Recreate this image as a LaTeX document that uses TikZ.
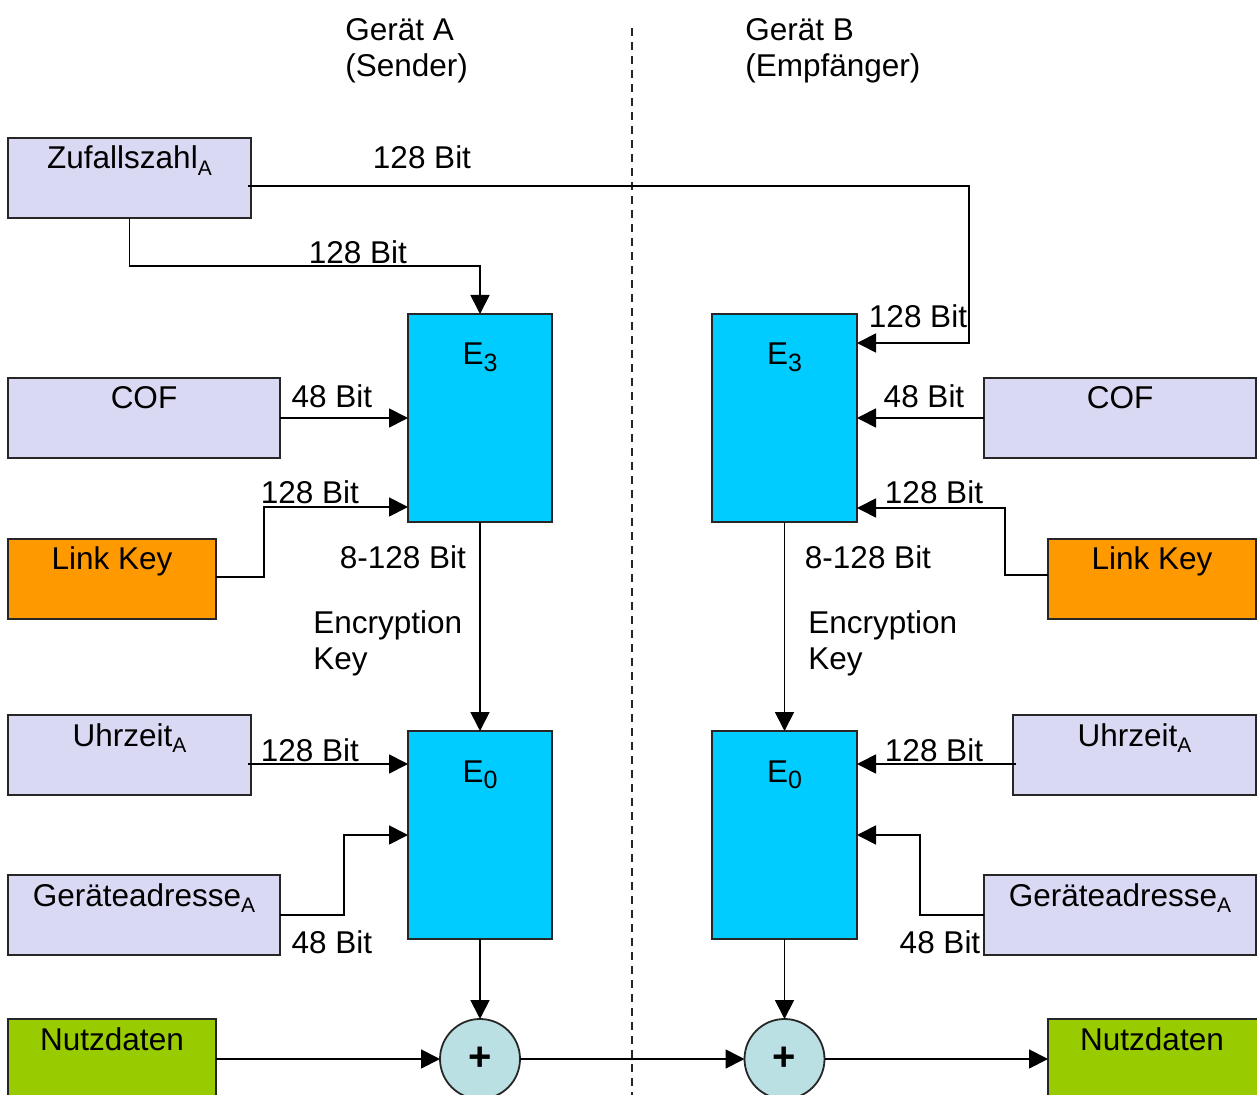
\documentclass[tikz,border=0pt]{standalone}
\usepackage{fontspec}
\setmainfont{Liberation Sans}
\usetikzlibrary{fit,calc,arrows.meta}
\definecolor{boxlila}{RGB}{217,217,243}
\definecolor{ecyan}{RGB}{0,204,255}
\definecolor{lkorange}{RGB}{255,153,0}
\definecolor{ndgreen}{RGB}{153,204,0}
\definecolor{xorfill}{RGB}{187,224,227}
\newcommand\subtx[1]{\raisebox{-0.22em}{\fontsize{10.5}{12}\selectfont #1}}
\newcommand\subnum[1]{\raisebox{-0.2em}{\fontsize{12.5}{14}\selectfont #1}}
\begin{document}
\begin{tikzpicture}[x=0.5pt,y=-0.5pt,
  every node/.style={font=\fontsize{15.75}{18}\selectfont},
  boxbase/.style={draw=black!85, line width=0.9pt, inner sep=0pt, outer sep=0pt},
  inbox/.style={boxbase, fill=boxlila},
  ebox/.style={boxbase, fill=ecyan},
  lkbox/.style={boxbase, fill=lkorange},
  ndbox/.style={boxbase, fill=ndgreen},
  xorop/.style={draw=black!85, line width=0.9pt, circle, fill=xorfill, minimum size=40pt, inner sep=0pt, outer sep=0pt, font=\fontsize{20}{24}\selectfont\bfseries},
  lbl/.style={inner sep=0pt, anchor=base},
  hdr/.style={inner sep=0pt, anchor=north west, align=left},
  conn/.style={line width=0.9pt, black},
  arr/.style={conn, -{Triangle[length=9.5pt,width=9.5pt]}},
  divider/.style={line width=0.7pt, black!85, dash pattern=on 4pt off 3pt},
]
\path[use as bounding box] (0,0) rectangle (1257,1095);

% headers and divider
\node[hdr] (hA) at (345,18) {Gerät A\\(Sender)};
\node[hdr] (hB) at (745,18) {Gerät B\\(Empfänger)};
\coordinate (dtop) at (632,28);
\coordinate (dbot) at (632,1095);
\draw[divider] (dtop) -- (dbot);

% boxes, left side
\node[inbox, fit={(8,138) (251,218)}] (za) {};
\node[inbox, fit={(8,378) (280,458)}] (cofa) {};
\node[lkbox, fit={(8,539) (216,619)}] (lka) {};
\node[inbox, fit={(8,715) (251,795)}] (uza) {};
\node[inbox, fit={(8,875) (280,955)}] (gaa) {};
\node[ndbox, fit={(8,1019) (216,1120)}] (nda) {};
\node[ebox, fit={(408,314) (552,522)}] (e3a) {};
\node[ebox, fit={(408,731) (552,939)}] (e0a) {};
\node[xorop] (pa) at (480,1059) {+};

% boxes, right side
\node[inbox, fit={(984,378) (1256,458)}] (cofb) {};
\node[lkbox, fit={(1048,539) (1256,619)}] (lkb) {};
\node[inbox, fit={(1013,715) (1256,795)}] (uzb) {};
\node[inbox, fit={(984,875) (1256,955)}] (gab) {};
\node[ndbox, fit={(1048,1019) (1270,1120)}] (ndb) {};
\node[ebox, fit={(712,314) (857,522)}] (e3b) {};
\node[ebox, fit={(712,731) (857,939)}] (e0b) {};
\node[xorop] (pb) at (784.5,1059) {+};

% box texts
\node[lbl] (zaT) at ($(za.north)+(0,31)$) {Zufallszahl\subtx{A}};
\node[lbl] (cofaT) at ($(cofa.north)+(0,31)$) {COF};
\node[lbl] (lkaT) at ($(lka.north)+(0,31)$) {Link Key};
\node[lbl] (uzaT) at ($(uza.north)+(0,31)$) {Uhrzeit\subtx{A}};
\node[lbl] (gaaT) at ($(gaa.north)+(0,31)$) {Geräteadresse\subtx{A}};
\node[lbl] (ndaT) at ($(nda.north)+(0,31)$) {Nutzdaten};
\node[lbl] (e3aT) at ($(e3a.north)+(0,51)$) {E\subnum{3}};
\node[lbl] (e0aT) at ($(e0a.north)+(0,51)$) {E\subnum{0}};
\node[lbl] (cofbT) at ($(cofb.north)+(0,31)$) {COF};
\node[lbl] (lkbT) at ($(lkb.north)+(0,31)$) {Link Key};
\node[lbl] (uzbT) at ($(uzb.north)+(0,31)$) {Uhrzeit\subtx{A}};
\node[lbl] (gabT) at ($(gab.north)+(0,31)$) {Geräteadresse\subtx{A}};
\node[lbl] (ndbT) at (1152,1050) {Nutzdaten};
\node[lbl] (e3bT) at ($(e3b.north)+(0,51)$) {E\subnum{3}};
\node[lbl] (e0bT) at ($(e0b.north)+(0,51)$) {E\subnum{0}};

% connectors, left side
\coordinate (zr) at (969,186);
\draw[arr] ($(za.north east)+(-3,48)$) -- (zr) |- ($(e3b.north east)+(0,29)$);
\draw[arr] (za.south) -- ++(0,48) -| (e3a.north);
\draw[arr] (cofa.east) -- (e3a.west |- cofa.east);
\draw[arr] ($(lka.north west)+(208,38)$) -- ++(48,0) |- ($(e3a.north west)+(0,193)$);
\draw[arr] (e3a.south) -- (e0a.north);
\draw[arr] ($(uza.north east)+(-3,49)$) -- ($(e0a.north west)+(0,33)$);
\draw[arr] (gaa.east) -- ++(64,0) |- ($(e0a.north west)+(0,104)$);
\draw[arr] (e0a.south) -- (pa.north);
\draw[arr] ($(nda.north east)+(0,40)$) -- (pa.west);
\draw[arr] (pa.east) -- (pb.west);

% connectors, right side
\draw[arr] (cofb.west) -- (e3b.east |- cofb.west);
\draw[arr] ($(lkb.north west)+(0,36)$) -- ++(-43,0) |- ($(e3b.north east)+(0,194)$);
\draw[arr] (e3b.south) -- (e0b.north);
\draw[arr] ($(uzb.north west)+(3,49)$) -- ($(e0b.north east)+(0,33)$);
\draw[arr] (gab.west) -- ++(-64,0) |- ($(e0b.north east)+(0,104)$);
\draw[arr] (e0b.south) -- (pb.north);
\draw[arr] (pb.east) -- ($(ndb.north west)+(0,40)$);

% bit labels
\node[lbl] (b1) at (422,169) {128 Bit};
\node[lbl] (b2) at (358,264) {128 Bit};
\node[lbl] (b3) at (918,328) {128 Bit};
\node[lbl] (b4) at (332,408) {48 Bit};
\node[lbl] (b5) at (924,408) {48 Bit};
\node[lbl] (b6) at (310,504) {128 Bit};
\node[lbl] (b7) at (934,504) {128 Bit};
\node[lbl] (b8) at (403,569) {8-128 Bit};
\node[lbl] (b9) at (868,569) {8-128 Bit};
\node[lbl] (b10) at (310,761) {128 Bit};
\node[lbl] (b11) at (934,761) {128 Bit};
\node[lbl] (b12) at (332,953) {48 Bit};
\node[lbl] (b13) at (940,953) {48 Bit};
\node[hdr] (ekA) at (313,610) {Encryption\\Key};
\node[hdr] (ekB) at (808,610) {Encryption\\Key};
\end{tikzpicture}
\end{document}
